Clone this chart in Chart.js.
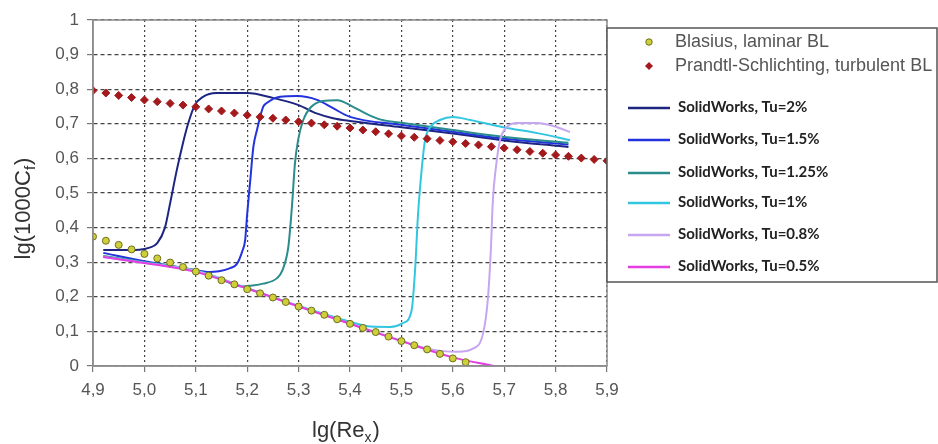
<!DOCTYPE html>
<html lang="en">
<head>
  <meta charset="UTF-8" />
  <title>Skin friction vs Reynolds number</title>
  <script src="https://cdn.jsdelivr.net/npm/chart.js"></script>
  <style>
    body { margin: 0; background: #fff; }
    #wrap { position: relative; width: 938px; height: 444px; }
  </style>
</head>
<body>
<div id="wrap"><canvas id="cf"></canvas></div>

<script>
  // x tick labels
  const xTicks = [4.9, 5.0, 5.1, 5.2, 5.3, 5.4, 5.5, 5.6, 5.7, 5.8, 5.9];
  const yTicks = [0, 0.1, 0.2, 0.3, 0.4, 0.5, 0.6, 0.7, 0.8, 0.9, 1];

  // Blasius, laminar BL (dots)
  const blasiusX = [4.9, 4.925, 4.95, 4.975, 5.0, 5.025, 5.05, 5.075, 5.1, 5.125, 5.15, 5.175, 5.2, 5.225, 5.25,
    5.275, 5.3, 5.325, 5.35, 5.375, 5.4, 5.425, 5.45, 5.475, 5.5, 5.525, 5.55, 5.575, 5.6, 5.625];
  const blasiusY = [0.374, 0.362, 0.35, 0.337, 0.324, 0.311, 0.299, 0.286, 0.273, 0.261, 0.248, 0.236, 0.222, 0.21, 0.198,
    0.185, 0.172, 0.16, 0.148, 0.135, 0.122, 0.11, 0.098, 0.085, 0.072, 0.06, 0.048, 0.035, 0.022, 0.011];

  // Prandtl-Schlichting, turbulent BL (diamonds)
  const prandtlX = [4.9, 4.925, 4.95, 4.975, 5.0, 5.025, 5.05, 5.075, 5.1, 5.125, 5.15, 5.175, 5.2, 5.225, 5.25,
    5.275, 5.3, 5.325, 5.35, 5.375, 5.4, 5.425, 5.45, 5.475, 5.5, 5.525, 5.55, 5.575, 5.6, 5.625, 5.65, 5.675,
    5.7, 5.725, 5.75, 5.775, 5.8, 5.825, 5.85, 5.875, 5.9];
  const prandtlY = [0.796, 0.789, 0.782, 0.776, 0.769, 0.764, 0.759, 0.754, 0.749, 0.743, 0.737, 0.731, 0.725, 0.72, 0.716,
    0.711, 0.706, 0.702, 0.697, 0.693, 0.688, 0.682, 0.677, 0.671, 0.665, 0.661, 0.657, 0.652, 0.648, 0.643, 0.639, 0.634,
    0.63, 0.625, 0.62, 0.615, 0.61, 0.606, 0.601, 0.597, 0.593];

  // SolidWorks curves
  const tu2X = [4.92, 4.95, 4.99, 5.01, 5.025, 5.04, 5.05, 5.063, 5.075, 5.085, 5.098, 5.114, 5.14, 5.2, 5.25, 5.3,
    5.335, 5.367, 5.4, 5.5, 5.6, 5.7, 5.825];
  const tu2Y = [0.335, 0.335, 0.336, 0.342, 0.355, 0.40, 0.47, 0.566, 0.644, 0.70, 0.754, 0.778, 0.789, 0.789, 0.775, 0.754,
    0.73, 0.716, 0.708, 0.69, 0.672, 0.652, 0.633];

  const tu15X = [4.92, 5.0, 5.05, 5.1, 5.122, 5.145, 5.167, 5.18, 5.19, 5.196, 5.2, 5.206, 5.212, 5.219, 5.231, 5.238,
    5.264, 5.297, 5.336, 5.367, 5.4, 5.5, 5.6, 5.7, 5.825];
  const tu15Y = [0.327, 0.303, 0.29, 0.277, 0.272, 0.274, 0.283, 0.295, 0.33, 0.364, 0.44, 0.537, 0.633, 0.682, 0.749, 0.76,
    0.778, 0.78, 0.769, 0.745, 0.72, 0.697, 0.677, 0.657, 0.64];

  const tu125X = [4.92, 5.0, 5.1, 5.15, 5.19, 5.205, 5.231, 5.258, 5.268, 5.28, 5.287, 5.293, 5.299, 5.309, 5.322, 5.347,
    5.375, 5.406, 5.433, 5.46, 5.5, 5.6, 5.7, 5.825];
  const tu125Y = [0.318, 0.3, 0.276, 0.25, 0.23, 0.232, 0.238, 0.254, 0.275, 0.344, 0.46, 0.587, 0.653, 0.711, 0.745, 0.766,
    0.768, 0.749, 0.728, 0.712, 0.703, 0.682, 0.662, 0.645];

  const tu1X = [4.92, 5.0, 5.1, 5.2, 5.3, 5.4, 5.44, 5.478, 5.503, 5.52, 5.527, 5.532, 5.54, 5.546, 5.556, 5.575, 5.6,
    5.634, 5.698, 5.764, 5.828];
  const tu1Y = [0.316, 0.299, 0.276, 0.225, 0.174, 0.128, 0.114, 0.113, 0.124, 0.162, 0.287, 0.43, 0.576, 0.653, 0.69, 0.711,
    0.72, 0.711, 0.69, 0.673, 0.653];

  const tu08X = [4.92, 5.0, 5.1, 5.2, 5.3, 5.4, 5.5, 5.55, 5.58, 5.61, 5.639, 5.659, 5.668, 5.674, 5.678, 5.684, 5.692,
    5.705, 5.725, 5.764, 5.803, 5.828];
  const tu08Y = [0.315, 0.298, 0.275, 0.224, 0.173, 0.123, 0.073, 0.05, 0.043, 0.041, 0.05, 0.095, 0.19, 0.335, 0.48, 0.576,
    0.653, 0.69, 0.702, 0.702, 0.69, 0.676];

  const tu05X = [4.92, 5.0, 5.1, 5.2, 5.3, 5.4, 5.5, 5.6, 5.68];
  const tu05Y = [0.315, 0.298, 0.272, 0.224, 0.172, 0.122, 0.072, 0.025, 0.0];

  const pts = (xs, ys) => xs.map((x, i) => ({ x: x, y: ys[i] }));
  const yLabel = v => (Math.round(v * 10) / 10).toString().replace('.', ',');
  const xLabel = v => v.toFixed(1).replace('.', ',');
  const FONT = '"Liberation Sans", Arial, sans-serif';

  function line(label, xs, ys, color, order) {
    return {
      label: label, data: pts(xs, ys), showLine: true, borderColor: color, backgroundColor: color,
      borderWidth: 2, pointRadius: 0, cubicInterpolationMode: 'monotone', order: order
    };
  }

  const datasets = [
    { label: 'Blasius, laminar BL', data: pts(blasiusX, blasiusY), pointStyle: 'circle', pointRadius: 3.5,
      backgroundColor: '#cfcf3a', borderColor: '#6e6e1e', borderWidth: 1, order: 0 },
    { label: 'Prandtl-Schlichting, turbulent BL', data: pts(prandtlX, prandtlY), pointStyle: 'rectRot', pointRadius: 4,
      backgroundColor: '#a3191c', borderColor: '#a3191c', borderWidth: 1, order: 1 },
    line('SolidWorks, Tu=2%', tu2X, tu2Y, '#1d2580', 7),
    line('SolidWorks, Tu=1.5%', tu15X, tu15Y, '#2233dd', 6),
    line('SolidWorks, Tu=1.25%', tu125X, tu125Y, '#2a8c8c', 5),
    line('SolidWorks, Tu=1%', tu1X, tu1Y, '#33c6e0', 4),
    line('SolidWorks, Tu=0.8%', tu08X, tu08Y, '#c6a6f0', 3),
    line('SolidWorks, Tu=0.5%', tu05X, tu05Y, '#e23ee2', 2)
  ];

  const legendRows = [42, 66, 108, 140, 173, 203, 235, 267];

  const decor = {
    id: 'decor',
    afterDraw(chart) {
      const ctx = chart.ctx, a = chart.chartArea;
      ctx.save();
      // frame
      ctx.strokeStyle = '#8c8c8c';
      ctx.lineWidth = 1.5;
      ctx.strokeRect(a.left, a.top, a.right - a.left, a.bottom - a.top);

      // axis titles
      ctx.fillStyle = '#333';
      ctx.textBaseline = 'alphabetic';
      ctx.save();
      ctx.translate(30, 209);
      ctx.rotate(-Math.PI / 2);
      const p1 = 'lg(1000C', p3 = ')';
      ctx.font = '22px ' + FONT; const w1 = ctx.measureText(p1).width, w3 = ctx.measureText(p3).width;
      ctx.font = '15px ' + FONT; const w2 = ctx.measureText('f').width;
      let sx = -(w1 + w2 + w3) / 2;
      ctx.font = '22px ' + FONT; ctx.fillText(p1, sx, 0);
      ctx.font = '15px ' + FONT; ctx.fillText('f', sx + w1, 5);
      ctx.font = '22px ' + FONT; ctx.fillText(p3, sx + w1 + w2 + 1, 0);
      ctx.restore();

      ctx.font = '22px ' + FONT;
      const q1 = 'lg(Re';
      const qw1 = ctx.measureText(q1).width;
      let tx = 312;
      ctx.fillText(q1, tx, 437);
      ctx.font = '14px ' + FONT;
      const qw2 = ctx.measureText('x').width;
      ctx.fillText('x', tx + qw1, 442);
      ctx.font = '22px ' + FONT;
      ctx.fillText(')', tx + qw1 + qw2 + 1, 437);

      // legend box
      ctx.fillStyle = '#fff';
      ctx.fillRect(607, 28, 330, 254);
      ctx.strokeStyle = '#555';
      ctx.lineWidth = 1.5;
      ctx.strokeRect(607, 28, 330, 254);

      chart.data.datasets.forEach((ds, i) => {
        const y = legendRows[i];
        if (i === 0) {
          ctx.beginPath(); ctx.arc(649, y, 3.2, 0, Math.PI * 2);
          ctx.fillStyle = ds.backgroundColor; ctx.fill();
          ctx.strokeStyle = ds.borderColor; ctx.lineWidth = 1; ctx.stroke();
        } else if (i === 1) {
          ctx.beginPath();
          ctx.moveTo(649, y - 4); ctx.lineTo(653, y); ctx.lineTo(649, y + 4); ctx.lineTo(645, y); ctx.closePath();
          ctx.fillStyle = ds.backgroundColor; ctx.fill();
        } else {
          ctx.beginPath(); ctx.moveTo(628, y); ctx.lineTo(670, y);
          ctx.strokeStyle = ds.borderColor; ctx.lineWidth = 2.5; ctx.stroke();
        }
        ctx.textBaseline = 'middle';
        if (i < 2) {
          ctx.font = '18px ' + FONT; ctx.fillStyle = '#555';
          ctx.fillText(ds.label, 675, y);
        } else {
          ctx.font = 'bold 15px Lato, sans-serif'; ctx.fillStyle = '#222';
          ctx.fillText(ds.label, 678, y - 1);
        }
      });
      ctx.restore();
    }
  };

  new Chart(document.getElementById('cf'), {
    type: 'scatter',
    data: { datasets: datasets },
    options: {
      responsive: true,
      maintainAspectRatio: false,
      animation: false,
      layout: { padding: { top: 20, right: 331, left: 0, bottom: 0 } },
      plugins: { legend: { display: false }, tooltip: { enabled: false } },
      scales: {
        x: {
          type: 'linear', min: 4.9, max: 5.9,
          afterBuildTicks: s => { s.ticks = xTicks.map(v => ({ value: v })); },
          afterFit: s => { s.height = 78; },
          ticks: { callback: v => xLabel(v), color: '#555', font: { size: 17, family: FONT }, padding: 8, maxRotation: 0 },
          grid: { color: '#444', lineWidth: 1.2, tickLength: 6, tickColor: '#777' },
          border: { display: true, color: '#8c8c8c', width: 1.5, dash: [2, 3] }
        },
        y: {
          min: 0, max: 1,
          afterBuildTicks: s => { s.ticks = yTicks.map(v => ({ value: v })); },
          afterFit: s => { s.width = 93; },
          ticks: { callback: v => yLabel(v), color: '#555', font: { size: 17, family: FONT }, padding: 8 },
          grid: { color: '#444', lineWidth: 1.2, tickLength: 6, tickColor: '#777' },
          border: { display: true, color: '#8c8c8c', width: 1.5, dash: [4, 3] }
        }
      }
    },
    plugins: [decor]
  });
</script>
</body>
</html>
